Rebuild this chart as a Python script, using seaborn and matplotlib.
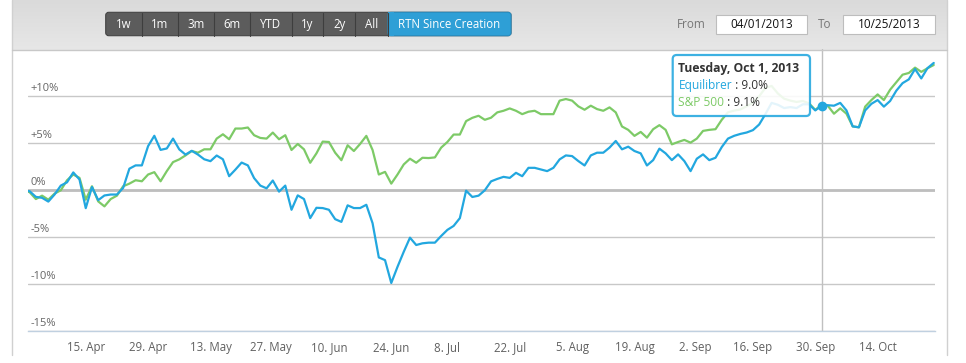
import numpy as np
import pandas as pd
import matplotlib
matplotlib.use("Agg")
import matplotlib.pyplot as plt
import matplotlib.patches as mpatches
from matplotlib.colors import LinearSegmentedColormap
import seaborn as sns

# ---- data (cumulative return %, one value per trading day) ----
equilibrer = [
    0, -0.1, -0.7, -0.8, -1.2, -0.45, 0.5, 0.85, 1.9, 1.15,
    -1.9, 0.35, -1.05, -0.55, -0.45, -0.45, 0.25, 2.3, 2.65, 2.65,
    4.7, 5.8, 4.3, 4.45, 5.5, 4.35, 3.8, 4.2, 3.8, 3.3,
    3.1, 3.7, 3.3, 1.5, 2.2, 2.95, 2.65, 1.3, 0.5, 0.21,
    1.04, -0.14, 0.5, -2.07, -0.54, -0.93, -2.96, -1.86, -1.89, -2.07,
    -3.07, -3.36, -1.6, -1.89, -1.89, -1.54, -3.5, -7.14, -7.43, -9.86,
    -8.14, -6.54, -5.04, -5.82, -5.64, -5.57, -5.57, -4.86, -4.21, -3.79,
    -2.96, -0.04, -0.71, -0.57, 0.0, 0.95, 1.21, 1.43, 1.32, 1.86,
    1.5, 2.39, 2.39, 2.21, 2.04, 2.39, 3.29, 3.71, 3.64, 3.11,
    2.64, 3.71, 4.0, 4.0, 4.54, 5.25, 4.36, 4.64, 4.18, 3.93,
    2.64, 3.21, 4.43, 3.93, 3.21, 3.82, 3.11, 2.04, 3.36, 3.82,
    3.21, 3.46, 4.6, 5.5, 5.8, 6.0, 6.15, 6.4, 7.0, 8.1,
    9.3, 9.1, 8.75, 8.85, 8.75, 9.15, 9.15, 8.5, 9.0, 9.05,
    9.0, 9.3, 8.5, 6.8, 6.7, 8.5, 9.2, 9.6, 8.9, 9.5,
    10.6, 11.4, 11.8, 12.9, 11.9, 13.0, 13.55,
]
sp500 = [
    0, -0.2, -0.93, -0.57, -1.0, -0.35, 0.0, 1.07, 1.68, 1.32,
    -1.0, 0.43, -1.18, -1.71, -0.93, -0.57, 0.43, 0.71, 1.07, 0.96,
    1.68, 1.93, 0.96, 2.04, 3.0, 3.29, 3.71, 4.18, 4.0, 4.36,
    4.36, 5.5, 5.96, 5.43, 6.57, 6.57, 6.68, 5.86, 5.57, 5.5,
    6.14, 5.43, 5.86, 4.29, 4.93, 4.36, 2.93, 3.93, 5.18, 5.14,
    4.0, 3.2, 4.79, 4.18, 4.93, 5.79, 4.29, 1.68, 1.96, 0.71,
    1.68, 2.75, 3.36, 2.93, 3.46, 3.43, 3.5, 4.54, 5.14, 5.93,
    5.93, 7.36, 7.71, 7.93, 7.5, 7.72, 8.29, 8.46, 8.71, 8.46,
    8.1, 8.36, 8.46, 8.1, 8.1, 8.1, 9.54, 9.71, 9.54, 8.93,
    8.57, 9.0, 8.64, 8.46, 8.82, 8.29, 6.79, 6.43, 5.79, 6.21,
    5.6, 6.5, 6.93, 6.43, 4.89, 5.14, 5.36, 5.07, 5.5, 6.32,
    6.43, 6.5, 7.5, 8.3, 8.48, 8.6, 8.95, 9.3, 10.0, 10.9,
    11.1, 10.3, 9.75, 9.54, 9.4, 9.5, 9.25, 8.55, 9.1, 9.0,
    8.15, 8.72, 8.15, 6.8, 6.7, 8.9, 9.6, 10.2, 9.6, 10.7,
    11.5, 12.3, 12.48, 13.05, 12.6, 12.98, 13.33,
]
holidays = ["2013-05-27", "2013-07-04", "2013-09-02"]
tick_dates = ["2013-04-15", "2013-04-29", "2013-05-13", "2013-05-27", "2013-06-10",
              "2013-06-24", "2013-07-08", "2013-07-22", "2013-08-05", "2013-08-19",
              "2013-09-02", "2013-09-16", "2013-09-30", "2013-10-14"]
y_ticks = [-15, -10, -5, 0, 5, 10]
y_labels = ["-15%", "-10%", "-5%", "0%", "+5%", "+10%"]
hover_date = "2013-10-01"
buttons = ["1w", "1m", "3m", "6m", "YTD", "1y", "2y", "All", "RTN Since Creation"]

BLUE = "#22a7df"
GREEN = "#7dca67"

days = pd.bdate_range("2013-04-01", "2013-10-25")
days = days[~days.isin(pd.to_datetime(holidays))]
df = pd.DataFrame({"date": days, "Equilibrer": equilibrer, "S&P 500": sp500})
df["pos"] = np.arange(len(df))  # ordinal axis: trading days equally spaced

ordinals = np.array([d.toordinal() for d in df["date"]])
tick_pos = [np.interp(pd.Timestamp(t).toordinal(), ordinals, df["pos"]) for t in tick_dates]
tick_labels = [f"{pd.Timestamp(t).day}. {pd.Timestamp(t).strftime('%b')}" for t in tick_dates]

sns.set_style("white")
plt.rcParams["font.family"] = ["Open Sans", "DejaVu Sans"]

W, H = 966, 363
fig = plt.figure(figsize=(W / 100, H / 100), dpi=100)
fig.patch.set_facecolor("white")


def px(x, y):
    return x / 100, (H - y) / 100


def rect(x0, y0, x1, y1, **kw):
    r = mpatches.Rectangle(px(x0, y1), (x1 - x0) / 100, (y1 - y0) / 100,
                           transform=fig.dpi_scale_trans, **kw)
    fig.add_artist(r)
    return r


def rbox(x0, y0, x1, y1, rs=0.03, **kw):
    r = mpatches.FancyBboxPatch(px(x0, y1), (x1 - x0) / 100, (y1 - y0) / 100,
                                boxstyle=f"round,pad=0,rounding_size={rs}",
                                transform=fig.dpi_scale_trans, **kw)
    fig.add_artist(r)
    return r


def ftext(x, y, s, **kw):
    return fig.text(*px(x, y), s, transform=fig.dpi_scale_trans, **kw)


# top grey toolbar with gradient
bg = fig.add_axes([12 / W, 1 - 50 / H, 935 / W, 50 / H])
grad = LinearSegmentedColormap.from_list("g", ["#dadada", "#e7e7e7"])
bg.imshow(np.linspace(0, 1, 50)[:, None], cmap=grad, aspect="auto")
bg.axis("off")

# panel frame
fig.add_artist(plt.Line2D([12 / W, 12 / W], [1 - 355 / H, 1], color="#d0d0d0", lw=1))
fig.add_artist(plt.Line2D([947 / W, 947 / W], [1 - 355 / H, 1], color="#d0d0d0", lw=1))
fig.add_artist(plt.Line2D([12 / W, 947 / W], [1 - 50 / H] * 2, color="#c8c8c8", lw=1))

# range buttons
edges = [105.7, 141.7, 178, 214, 250.3, 291.7, 323.3, 355.3, 388, 511]
rbox(edges[0], 12.3, edges[-1], 35.7, rs=0.03, facecolor="#5c5c5c", edgecolor="#444444", lw=0.8)
rbox(edges[-2], 12.3, edges[-1], 35.7, rs=0.03, facecolor="#2e9fd6", edgecolor="#2a8fc2", lw=0.8)
rect(edges[-2], 12.3, edges[-2] + 6, 35.7, facecolor="#2e9fd6", edgecolor="none")
for e in edges[1:-1]:
    fig.add_artist(plt.Line2D([e / W] * 2, [1 - 35.5 / H, 1 - 12.5 / H], color="#3e3e3e", lw=0.8))
for i, lab in enumerate(buttons):
    ftext((edges[i] + edges[i + 1]) / 2, 24.5, lab, color="white", fontsize=8.3,
          ha="center", va="center")

# date inputs
ftext(676.5, 25, "From", color="#777777", fontsize=8.5, ha="left", va="center")
ftext(818, 25, "To", color="#777777", fontsize=8.5, ha="left", va="center")
for (a, b), s in zip([(715.7, 807.3), (843.3, 935)], ["04/01/2013", "10/25/2013"]):
    rect(a, 15, b, 33.7, facecolor="white", edgecolor="#bdbdbd", lw=0.8)
    ftext((a + b) / 2, 25, s, color="#111111", fontsize=8.5, ha="center", va="center")

# ---- chart ----
x0p, x1p, top, bot = 28, 935, 49.3, 331.3
ax = fig.add_axes([x0p / W, 1 - bot / H, (x1p - x0p) / W, (bot - top) / H])
ax.set_facecolor("none")

sns.lineplot(data=df, x="pos", y="S&P 500", ax=ax, color=GREEN, lw=1.6, zorder=3)
sns.lineplot(data=df, x="pos", y="Equilibrer", ax=ax, color=BLUE, lw=1.6, zorder=4)

ax.set_xlim(0.74, 146.2)
ax.set_ylim(-15, 15)
ax.set_xlabel("")
ax.set_ylabel("")

ax.set_yticks(y_ticks)
ax.set_yticklabels([])
ax.tick_params(axis="y", length=0)
ax.yaxis.grid(True, color="#c8c8c8", lw=1)
ax.axhline(0, color="#bebebe", lw=2, zorder=1)
ax.set_axisbelow(True)
for v, lab in zip(y_ticks, y_labels):
    ax.text(0.003, v + 0.22, lab, transform=ax.get_yaxis_transform(), ha="left",
            va="bottom", fontsize=8, color="#666666")

ax.set_xticks(tick_pos)
ax.set_xticklabels(tick_labels)
ax.tick_params(axis="x", length=5, width=1, color="#c0d0e0", labelcolor="#606060",
               labelsize=8.3, pad=2, direction="out")
for s in ["top", "left", "right"]:
    ax.spines[s].set_visible(False)
ax.spines["bottom"].set_color("#c0d0e0")
ax.spines["bottom"].set_linewidth(1)

# hover crosshair + marker
hp = df.index[df["date"] == pd.Timestamp(hover_date)][0]
ax.axvline(df.loc[hp, "pos"], color="#c0c0c0", lw=1, zorder=2)
ax.plot(df.loc[hp, "pos"], df.loc[hp, "Equilibrer"], "o", color=BLUE, ms=6, zorder=6)

# tooltip
rbox(672.7, 55, 810, 116, rs=0.04, facecolor="white", edgecolor=BLUE, lw=1.6,
     alpha=0.88, zorder=10)
d = pd.Timestamp(hover_date)
ftext(678.5, 68.5, f"{d.strftime('%A')}, {d.strftime('%b')} {d.day}, {d.year}",
      fontsize=8.7, fontweight="bold", color="#333333", va="center", zorder=11)
fig.canvas.draw()
r = fig.canvas.get_renderer()
for yy, name, col in [(85.5, "Equilibrer", BLUE), (102.5, "S&P 500", GREEN)]:
    t = ftext(678.5, yy, name, fontsize=8.6, color=col, va="center", zorder=11)
    bb = t.get_window_extent(r)
    fig.text(bb.x1 / fig.dpi, (H - yy) / 100,
             f" : {df.loc[hp, name]:.1f}%", transform=fig.dpi_scale_trans,
             fontsize=8.6, color="#333333", va="center", zorder=11)

fig.savefig("out.png", dpi=100)
